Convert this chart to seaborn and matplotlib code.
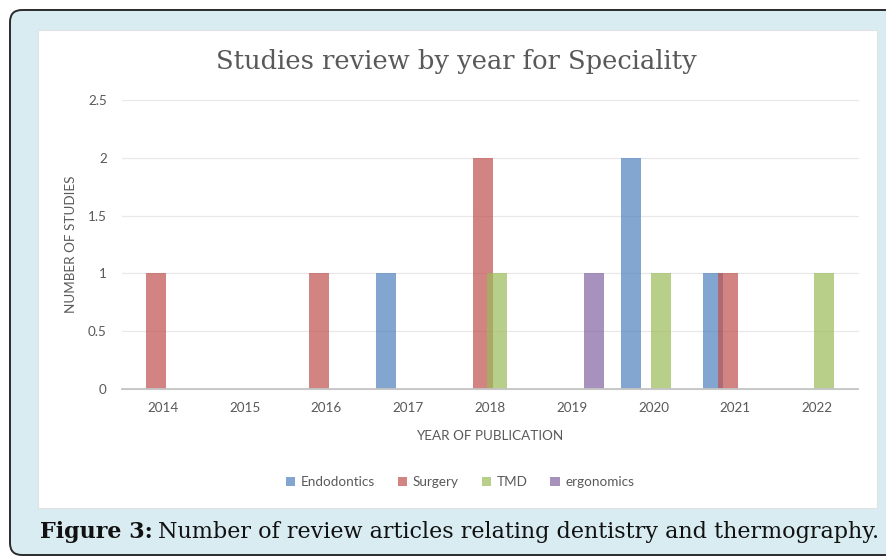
import pandas as pd
import matplotlib.pyplot as plt
import seaborn as sns
from matplotlib.patches import FancyBboxPatch, Rectangle, Patch

# data
years = ["2014", "2015", "2016", "2017", "2018", "2019", "2020", "2021", "2022"]
specialities = ["Endodontics", "Surgery", "TMD", "ergonomics"]
endodontics = [0, 0, 0, 1, 0, 0, 2, 1, 0]
surgery = [1, 0, 1, 0, 2, 0, 0, 1, 0]
tmd = [0, 0, 0, 0, 1, 0, 1, 0, 1]
ergonomics = [0, 0, 0, 0, 0, 1, 0, 0, 0]
colors = ["#4F81BD", "#C0504D", "#9BBB59", "#8064A2"]

rows = []
for name, vals in zip(specialities, [endodontics, surgery, tmd, ergonomics]):
    for y, v in zip(years, vals):
        rows.append({"Year": y, "Studies": v, "Speciality": name})
df = pd.DataFrame(rows)

sns.set_style("white")
plt.rcParams["font.family"] = ["Lato", "DejaVu Sans"]

W, H = 887, 557
fig = plt.figure(figsize=(W / 100, H / 100), dpi=100)

# light blue rounded frame and white chart area (pixel coords)
frame = FancyBboxPatch((10, 2), 900, H - 12, boxstyle="round,pad=0,rounding_size=12",
                       facecolor="#d8ecf2", edgecolor="#2b2b2b", linewidth=1.4,
                       transform=None, zorder=-10)
fig.patches.append(frame)
inner = Rectangle((38, H - 508), 877 - 38, 508 - 30, facecolor="white",
                  edgecolor="#e2e2e2", linewidth=0.8, transform=None, zorder=-9)
fig.patches.append(inner)

ax = fig.add_axes([122 / W, 1 - 389 / H, (858 - 122) / W, (389 - 100) / H])
ax.set_facecolor("none")

sns.barplot(data=df, x="Year", y="Studies", hue="Speciality", hue_order=specialities,
            order=years, palette=colors, width=0.72, saturation=1, alpha=0.7,
            linewidth=0, legend=False, ax=ax)

# Excel style overlapping bars: widen each bar around its own centre
bw = 0.245
for p in ax.patches:
    cx = p.get_x() + p.get_width() / 2
    p.set_width(bw)
    p.set_x(cx - bw / 2)

ax.set_xlim(-0.5, 8.5)
ax.set_ylim(0, 2.5)
ax.set_yticks([0, 0.5, 1, 1.5, 2, 2.5])
ax.set_yticklabels(["0", "0.5", "1", "1.5", "2", "2.5"])
ax.yaxis.grid(True, color="#e8e8e8", linewidth=0.9, clip_on=False)
ax.set_axisbelow(True)
for s in ["top", "right", "left"]:
    ax.spines[s].set_visible(False)
ax.spines["bottom"].set_color("#c4c4c4")
ax.spines["bottom"].set_linewidth(1.3)
ax.tick_params(axis="both", length=0, labelsize=9.7, labelcolor="#595959")
ax.tick_params(axis="y", pad=11)
ax.tick_params(axis="x", pad=9)

ax.set_xlabel("YEAR OF PUBLICATION", fontsize=9.7, color="#595959")
ax.set_ylabel("NUMBER OF STUDIES", fontsize=9.7, color="#595959")
ax.xaxis.set_label_coords(0.5, (389 - 430) / 289)
ax.yaxis.set_label_coords((77 - 122) / 736, 0.5)

handles = [Patch(facecolor=c, alpha=0.7, linewidth=0) for c in colors]
ax.legend(handles, specialities, loc="center", bbox_to_anchor=((460 - 122) / 736, (389 - 482) / 289),
          ncol=4, frameon=False, fontsize=9.7, labelcolor="#595959", handlelength=0.7,
          handleheight=0.7, handletextpad=0.4, columnspacing=1.7)

fig.text(456 / W, 1 - 62 / H, "Studies review by year for Speciality", ha="center", va="center",
         fontsize=18.5, color="#595959", family="DejaVu Serif")

cap = fig.text(40 / W, 1 - 538 / H, "Figure 3:", ha="left", va="baseline",
               fontsize=16, fontweight="bold", color="#111111", family="DejaVu Serif")
ax.annotate("Number of review articles relating dentistry and thermography.", xy=(1, 0),
            xycoords=cap, xytext=(4, 0), textcoords="offset points", ha="left", va="bottom",
            fontsize=16, color="#111111", family="DejaVu Serif", annotation_clip=False)

fig.savefig("out.png", dpi=100)
